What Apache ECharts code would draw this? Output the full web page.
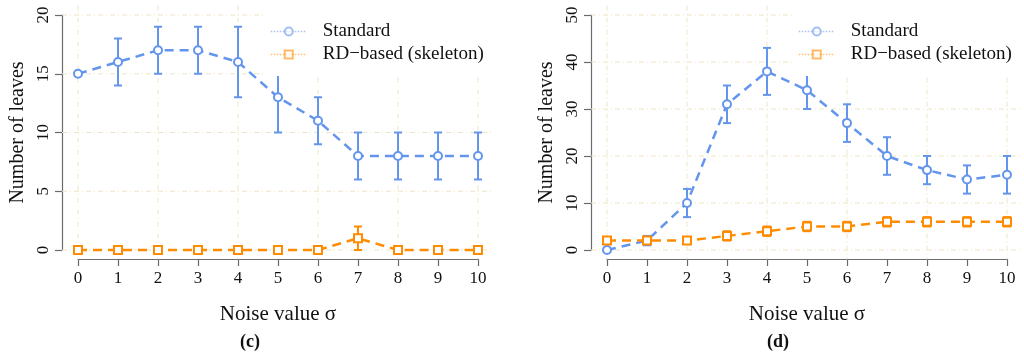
<!DOCTYPE html>
<html>
<head>
<meta charset="utf-8">
<script src="https://cdn.jsdelivr.net/npm/echarts@6/dist/echarts.min.js"></script>
<style>
html,body{margin:0;padding:0;background:#fff;}
#chart{width:1024px;height:358px;}
</style>
</head>
<body>
<div id="chart"></div>
<script>
// ---- data ----
const noiseValues = [0, 1, 2, 3, 4, 5, 6, 7, 8, 9, 10];
const seriesNames = ['Standard', 'RD\u2212based (skeleton)'];

// panel (c)
const cStandard   = [15, 16, 17, 17, 16, 13, 11, 8, 8, 8, 8];
const cStandardLo = [15, 14, 15, 15, 13, 10, 9, 6, 6, 6, 6];
const cStandardHi = [15, 18, 19, 19, 19, 16, 13, 10, 10, 10, 10];
const cRd   = [0, 0, 0, 0, 0, 0, 0, 1, 0, 0, 0];
const cRdLo = [0, 0, 0, 0, 0, 0, 0, 0, 0, 0, 0];
const cRdHi = [0, 0, 0, 0, 0, 0, 0, 2, 0, 0, 0];
const cYTicks = [0, 5, 10, 15, 20];

// panel (d)
const dStandard   = [0, 2, 10, 31, 38, 34, 27, 20, 17, 15, 16];
const dStandardLo = [0, 1, 7, 27, 33, 30, 23, 16, 14, 12, 12];
const dStandardHi = [0, 3, 13, 35, 43, 38, 31, 24, 20, 18, 20];
const dRd   = [2, 2, 2, 3, 4, 5, 5, 6, 6, 6, 6];
const dRdLo = [2, 2, 2, 2, 3, 4, 4, 5, 5, 5, 5];
const dRdHi = [2, 2, 2, 4, 5, 6, 6, 7, 7, 7, 7];
const dYTicks = [0, 10, 20, 30, 40, 50];

const xGridTicks = [0, 2, 4, 6, 8, 10];
const captions = ['(c)', '(d)'];
const xTitle = 'Noise value \u03c3';
const yTitle = 'Number of leaves';

// ---- style ----
const FONT = "'Liberation Serif', 'DejaVu Serif', serif";
const BLUE = '#6495ED';
const ORANGE = '#FF8C00';
const AXIS = '#6b6b6b';
const GRID = '#EFE4C4';

const chart = echarts.init(document.getElementById('chart'), null, {renderer: 'canvas'});

function gridLinesSeries(ai, yTicks) {
  const data = xGridTicks.map(v => [v, 0]).concat(yTicks.map(v => [v, 1]));
  return {
    type: 'custom', xAxisIndex: ai, yAxisIndex: ai, silent: true, z: 1,
    data: data,
    renderItem: function (params, api) {
      const cs = params.coordSys;
      const v = api.value(0), o = api.value(1);
      let shape;
      if (o === 0) {
        const p = api.coord([v, 0]);
        shape = {x1: p[0], y1: cs.y, x2: p[0], y2: cs.y + cs.height};
      } else {
        const p = api.coord([0, v]);
        shape = {x1: cs.x, y1: p[1], x2: cs.x + cs.width, y2: p[1]};
      }
      return {type: 'line', shape: shape,
        style: {stroke: GRID, lineWidth: 1, lineDash: [5, 3, 1, 3]}};
    }
  };
}

function errorSeries(ai, lo, hi, color) {
  const data = noiseValues.map((x, i) => [x, lo[i], hi[i]]).filter(d => d[1] !== d[2]);
  return {
    type: 'custom', xAxisIndex: ai, yAxisIndex: ai, silent: true, z: 3,
    data: data,
    renderItem: function (params, api) {
      const a = api.coord([api.value(0), api.value(1)]);
      const b = api.coord([api.value(0), api.value(2)]);
      const w = 4;
      const st = {stroke: color, lineWidth: 2};
      return {type: 'group', children: [
        {type: 'line', shape: {x1: a[0], y1: a[1], x2: b[0], y2: b[1]}, style: st},
        {type: 'line', shape: {x1: a[0] - w, y1: a[1], x2: a[0] + w, y2: a[1]}, style: st},
        {type: 'line', shape: {x1: b[0] - w, y1: b[1], x2: b[0] + w, y2: b[1]}, style: st}
      ]};
    }
  };
}

function lineSeries(ai, name, vals, color, symbol) {
  return {
    type: 'line', name: name, xAxisIndex: ai, yAxisIndex: ai, z: 4,
    data: noiseValues.map((x, i) => [x, vals[i]]),
    symbol: symbol, symbolSize: 8, showSymbol: true, clip: false,
    itemStyle: {color: color, borderColor: color, borderWidth: 2.2},
    lineStyle: {color: color, width: 2.5, type: [9, 6]},
    emphasis: {disabled: true}, animation: false
  };
}

function dataAxes(left, ymax) {
  const pad = ymax * 0.04;
  return {
    grid: {left: left, top: 5.6, width: 432, height: 253.8, containLabel: false},
    x: {type: 'value', min: -0.4, max: 10.4, show: false},
    y: {type: 'value', min: -pad, max: ymax + pad, show: false}
  };
}

function tickAxes(left, ymax, yInterval) {
  const axisLine = {show: true, onZero: false, lineStyle: {color: AXIS, width: 1.2}};
  return {
    grid: {left: left + 16, top: 15, width: 400, height: 235, containLabel: false},
    x: {type: 'value', min: 0, max: 10, interval: 1, position: 'bottom', offset: 9,
        axisLine: axisLine, axisTick: {show: true, length: 7, lineStyle: {color: AXIS, width: 1.2}},
        axisLabel: {fontFamily: FONT, fontSize: 17, color: '#111', margin: 11},
        splitLine: {show: false},
        name: xTitle, nameLocation: 'middle', nameGap: 45,
        nameTextStyle: {fontFamily: FONT, fontSize: 21, color: '#111'}},
    y: {type: 'value', min: 0, max: ymax, interval: yInterval, position: 'left', offset: 16,
        axisLine: axisLine, axisTick: {show: true, length: 7, lineStyle: {color: AXIS, width: 1.2}},
        axisLabel: {fontFamily: FONT, fontSize: 17, color: '#111', rotate: 90, margin: 10},
        splitLine: {show: false},
        name: yTitle, nameLocation: 'middle', nameGap: 34, nameRotate: 90,
        nameTextStyle: {fontFamily: FONT, fontSize: 20, color: '#111'}}
  };
}

const cData = dataAxes(62, 20), cTick = tickAxes(62, 20, 5);
const dData = dataAxes(591, 50), dTick = tickAxes(591, 50, 10);

function legendAt(left) {
  return {
    show: true, orient: 'vertical', left: left, top: 6,
    data: seriesNames, backgroundColor: '#ffffff',
    padding: [16, 16, 12, 5], itemWidth: 36, itemHeight: 10, itemGap: 4,
    selectedMode: false,
    textStyle: {fontFamily: FONT, fontSize: 19, color: '#111', lineHeight: 19, padding: [0, 0, 0, 11]},
    lineStyle: {type: 'dotted', width: 1.5, opacity: 0.55},
    itemStyle: {opacity: 0.6}
  };
}

const option = {
  backgroundColor: '#ffffff',
  animation: false,
  grid: [cData.grid, cTick.grid, dData.grid, dTick.grid],
  xAxis: [
    Object.assign({gridIndex: 0}, cData.x),
    Object.assign({gridIndex: 1}, cTick.x),
    Object.assign({gridIndex: 2}, dData.x),
    Object.assign({gridIndex: 3}, dTick.x)
  ],
  yAxis: [
    Object.assign({gridIndex: 0}, cData.y),
    Object.assign({gridIndex: 1}, cTick.y),
    Object.assign({gridIndex: 2}, dData.y),
    Object.assign({gridIndex: 3}, dTick.y)
  ],
  legend: [legendAt(265), legendAt(793)],
  series: [
    gridLinesSeries(0, cYTicks),
    errorSeries(0, cStandardLo, cStandardHi, BLUE),
    errorSeries(0, cRdLo, cRdHi, ORANGE),
    lineSeries(0, seriesNames[0], cStandard, BLUE, 'emptyCircle'),
    lineSeries(0, seriesNames[1], cRd, ORANGE, 'emptyRect'),
    gridLinesSeries(2, dYTicks),
    errorSeries(2, dStandardLo, dStandardHi, BLUE),
    errorSeries(2, dRdLo, dRdHi, ORANGE),
    lineSeries(2, seriesNames[0], dStandard, BLUE, 'emptyCircle'),
    lineSeries(2, seriesNames[1], dRd, ORANGE, 'emptyRect')
  ],
  graphic: [
    {type: 'text', left: 240, top: 333, style: {text: captions[0], font: 'bold 18px ' + FONT, fill: '#111'}},
    {type: 'text', left: 767, top: 333, style: {text: captions[1], font: 'bold 18px ' + FONT, fill: '#111'}}
  ]
};
chart.setOption(option);
</script>
</body>
</html>
